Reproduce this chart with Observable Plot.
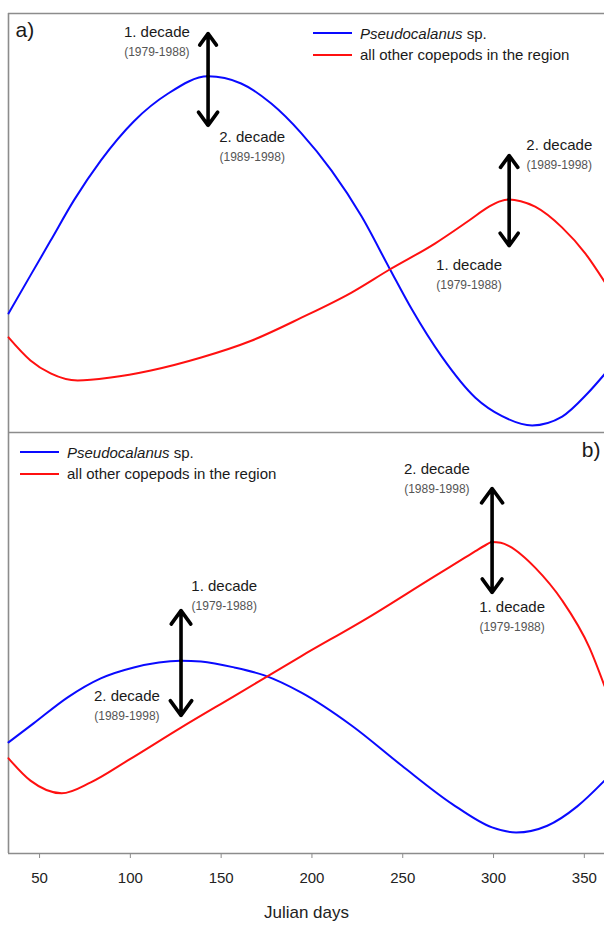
<!DOCTYPE html>
<html><head><meta charset="utf-8">
<script src="https://cdn.jsdelivr.net/npm/d3@7"></script>
<script src="https://cdn.jsdelivr.net/npm/@observablehq/plot@0.6"></script>
<style>
body{margin:0;background:#fff;font-family:"Liberation Sans",Arial,sans-serif;}
#wrap{position:relative;width:604px;height:925px;overflow:hidden;background:#fff;}
#wrap svg{display:block;}
.legend{position:absolute;font-size:15px;color:#1a1a1a;}
.legend .row{display:flex;align-items:center;height:21.5px;white-space:nowrap;}
.legend .sw{width:39px;height:2px;margin-right:8px;}
</style></head><body><div id="wrap"></div>
<script>
// ---- Data ----
const xTicks = [50, 100, 150, 200, 250, 300, 350];
const seriesNames = ["Pseudocalanus", "all other copepods in the region"];

// Panel a)
const pseudoA_days   = [32.9, 45.0, 56.1, 68.9, 83.7, 102.0, 120.8, 142.8, 161.0, 177.6, 194.2, 210.8, 227.3, 242.8, 255.0, 271.5, 290.0, 304.7, 321.3, 337.8, 351.7, 361.1];
const pseudoA_values = [28.4, 37.5, 45.8, 55.4, 64.9, 74.3, 80.9, 85.0, 83.3, 78.5, 71.4, 62.5, 51.6, 39.1, 29.4, 18.1, 8.3, 3.9, 1.7, 3.8, 9.3, 13.9];
const otherA_days    = [32.9, 45.0, 56.1, 71.0, 89.2, 111.3, 139.0, 166.6, 194.2, 221.8, 242.8, 267.7, 286.5, 297.5, 303.0, 308.6, 315.0, 322.9, 337.8, 350.6, 361.1];
const otherA_values  = [22.7, 17.2, 14.1, 12.4, 13.1, 14.8, 17.9, 21.9, 27.4, 33.4, 38.9, 45.1, 50.6, 53.9, 55.1, 55.6, 55.2, 53.9, 48.9, 42.7, 36.0];

// Panel b)
const pseudoB_days   = [32.9, 46.7, 65.5, 83.7, 101.9, 127.9, 138.9, 157.2, 173.8, 194.2, 221.8, 249.4, 277.1, 299.2, 312.4, 329.6, 346.1, 361.1];
const pseudoB_values = [26.4, 30.9, 37.1, 41.6, 44.2, 45.8, 45.6, 44.2, 42.3, 38.2, 30.4, 20.9, 11.8, 6.2, 5.0, 6.6, 11.2, 17.3];
const otherB_days    = [32.9, 45.0, 62.2, 78.2, 98.6, 127.9, 157.2, 194.2, 231.2, 267.7, 284.0, 290.0, 295.0, 299.2, 304.0, 308.6, 315.8, 322.9, 337.8, 352.8, 361.1];
const otherB_values  = [22.6, 17.3, 14.3, 16.9, 22.1, 29.9, 37.4, 46.9, 56.1, 65.9, 70.2, 71.8, 73.1, 74.0, 73.8, 73.0, 70.8, 67.9, 60.1, 48.9, 39.8];

// Decade shift arrows: day, value on curve, upper end, lower end
const arrowsA_day = [142.8, 308.6];
const arrowsA_mid = [85.0, 55.6];
const arrowsA_top = [95.2, 66.1];
const arrowsA_bot = [73.3, 44.6];
const arrowsB_day = [127.9, 299.2];
const arrowsB_mid = [45.8, 74.0];
const arrowsB_top = [57.7, 86.7];
const arrowsB_bot = [32.8, 62.0];

// Decade labels
const decadeA_text = ["1. decade", "2. decade", "2. decade", "1. decade"];
const yearsA_text  = ["(1979-1988)", "(1989-1998)", "(1989-1998)", "(1979-1988)"];
const decadeA_day  = [114.6, 167.1, 336.2, 286.5];
const decadeA_val  = [95.5, 70.4, 68.5, 39.9];
const decadeB_text = ["2. decade", "1. decade", "1. decade", "2. decade"];
const yearsB_text  = ["(1989-1998)", "(1979-1988)", "(1979-1988)", "(1989-1998)"];
const decadeB_day  = [268.8, 310.2, 151.7, 98.1];
const decadeB_val  = [91.2, 58.4, 63.4, 37.3];

// ---- helpers ----
const pts = (days, vals) => days.map((d, i) => ({day: d, v: vals[i]}));
const FONT = "'Liberation Sans', Arial, sans-serif";
const BLUE = "#0a0aff", RED = "#ff1010", GRID = "#8c8c8c";
const X_DOMAIN = [32.9, 361.1];
const CURVE = "monotone-x";

function arrows(days, mid, top, bot) {
  const up = days.map((d, i) => ({x1: d, y1: mid[i], x2: d, y2: top[i]}));
  const dn = days.map((d, i) => ({x1: d, y1: mid[i], x2: d, y2: bot[i]}));
  const opts = {x1: "x1", y1: "y1", x2: "x2", y2: "y2", stroke: "#000", strokeWidth: 3.6, headLength: 12, headAngle: 72};
  return [Plot.arrow(up, opts), Plot.arrow(dn, opts)];
}
function labels(text, years, days, vals) {
  const rows = text.map((t, i) => ({t, y: years[i], day: days[i], v: vals[i]}));
  return [
    Plot.text(rows, {x: "day", y: "v", text: "t", fontSize: 15, fill: "#1a1a1a"}),
    Plot.text(rows, {x: "day", y: "v", text: "y", fontSize: 12, fill: "#555", dy: 20})
  ];
}

const plotA = Plot.plot({
  width: 604, height: 432,
  marginLeft: 8, marginRight: 0, marginTop: 13, marginBottom: 0,
  x: {domain: X_DOMAIN, axis: null},
  y: {domain: [0, 100], axis: null},
  style: {fontFamily: FONT, background: "#fff", overflow: "visible"},
  marks: [
    Plot.ruleY([100], {stroke: GRID, strokeWidth: 1.6}),
    Plot.ruleX([X_DOMAIN[0]], {stroke: GRID, strokeWidth: 1.6}),
    Plot.line(pts(pseudoA_days, pseudoA_values), {x: "day", y: "v", stroke: BLUE, strokeWidth: 2, curve: CURVE}),
    Plot.line(pts(otherA_days, otherA_values), {x: "day", y: "v", stroke: RED, strokeWidth: 2, curve: CURVE}),
    ...arrows(arrowsA_day, arrowsA_mid, arrowsA_top, arrowsA_bot),
    ...labels(decadeA_text, yearsA_text, decadeA_day, decadeA_val),
    Plot.text(["a)"], {frameAnchor: "top-left", dx: 7, dy: 9, lineAnchor: "top", textAnchor: "start", fontSize: 21, fill: "#1a1a1a"})
  ]
});

const plotB = Plot.plot({
  width: 604, height: 493,
  marginLeft: 8, marginRight: 0, marginTop: 0, marginBottom: 72,
  x: {domain: X_DOMAIN, axis: null},
  y: {domain: [0, 100], axis: null},
  style: {fontFamily: FONT, background: "#fff", overflow: "visible"},
  marks: [
    Plot.ruleY([0], {stroke: GRID, strokeWidth: 1.6}),
    Plot.ruleX([X_DOMAIN[0]], {stroke: GRID, strokeWidth: 1.6}),
    Plot.axisX({ticks: xTicks, tickSize: 5, tickPadding: 14, stroke: GRID, fill: "#222", fontSize: 15, label: null, tickFormat: d => String(d)}),
    Plot.text(["Julian days"], {frameAnchor: "bottom", dy: 64, fontSize: 17, fill: "#222"}),
    Plot.line(pts(pseudoB_days, pseudoB_values), {x: "day", y: "v", stroke: BLUE, strokeWidth: 2, curve: CURVE}),
    Plot.line(pts(otherB_days, otherB_values), {x: "day", y: "v", stroke: RED, strokeWidth: 2, curve: CURVE}),
    ...arrows(arrowsB_day, arrowsB_mid, arrowsB_top, arrowsB_bot),
    ...labels(decadeB_text, yearsB_text, decadeB_day, decadeB_val),
    Plot.text(["b)"], {frameAnchor: "top-right", dx: -4, dy: 10, lineAnchor: "top", textAnchor: "end", fontSize: 21, fill: "#1a1a1a"}),
    Plot.ruleY([100], {stroke: GRID, strokeWidth: 1.6})
  ]
});

const wrap = document.getElementById("wrap");
wrap.appendChild(plotA);
wrap.appendChild(plotB);

function legend(left, top) {
  const div = document.createElement("div");
  div.className = "legend";
  div.style.left = left + "px";
  div.style.top = top + "px";
  const cols = [BLUE, RED];
  seriesNames.forEach((name, i) => {
    const row = document.createElement("div");
    row.className = "row";
    const sw = document.createElement("span");
    sw.className = "sw";
    sw.style.background = cols[i];
    row.appendChild(sw);
    const t = document.createElement("span");
    if (i === 0) { t.innerHTML = "<i>" + name + "</i> sp."; } else { t.textContent = name; }
    row.appendChild(t);
    div.appendChild(row);
  });
  wrap.appendChild(div);
}
legend(313, 22.5);
legend(20, 441.5);
</script></body></html>
